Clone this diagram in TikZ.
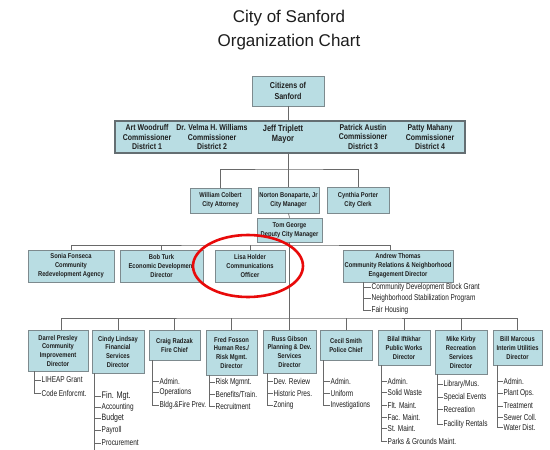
\documentclass[tikz,border=0pt]{standalone}
\usepackage{fontspec}
\setmainfont{Liberation Sans}
\newfontfamily\nfont[FakeStretch=0.83]{Liberation Sans}
\newfontfamily\ifont[FakeStretch=0.76]{Liberation Sans}
\definecolor{boxfill}{RGB}{185,221,227}
\definecolor{boxline}{RGB}{125,138,142}
\definecolor{linec}{RGB}{105,105,105}
\definecolor{txt}{RGB}{30,30,30}
\definecolor{ringred}{RGB}{232,10,10}
\newcommand\sublist[5]{%
  \foreach \yy/\txt [count=\i] in {#5} {%
    \node[item] (#1-\i) at (#4,\yy) {\txt};
    \draw[conn] (#2,#3) |- (#1-\i.west);
  }}
\begin{document}
\begin{tikzpicture}[x=1pt,y=-1pt,
  box/.style={draw=boxline, fill=boxfill, line width=0.8pt, inner sep=1pt,
    align=center, text=txt, font=\nfont\bfseries\fontsize{7}{8.9}\selectfont},
  bigbox/.style={box, font=\nfont\bfseries\fontsize{8.6}{10.5}\selectfont},
  ctext/.style={align=center, text=txt, inner sep=0pt, font=\nfont\bfseries\fontsize{8.4}{9.8}\selectfont},
  item/.style={anchor=west, inner sep=0.5pt, text=txt, font=\ifont\fontsize{8.5}{9}\selectfont},
  conn/.style={draw=linec, line width=0.7pt},
  title/.style={align=center, text=txt, font=\fontsize{17}{24.5}\selectfont}]
\useasboundingbox (0,0) rectangle (550,450);
\fill[white] (0,0) rectangle (550,450);

\node[title] (title) at (289,30) {City of Sanford\\Organization Chart};

% top
\node[bigbox, minimum width=72pt, minimum height=30pt] (citizens) at (288,91) {Citizens of\\Sanford};
\node[box, line width=1.2pt, draw=boxline!80!black, minimum width=350pt, minimum height=32pt] (council) at (290,137) {};
\node[ctext] (art) at (147,137) {Art Woodruff\\Commissioner\\District 1};
\node[ctext] (velma) at (212,137) {Dr. Velma H. Williams\\Commissioner\\District 2};
\node[ctext, font=\nfont\bfseries\fontsize{9}{10.5}\selectfont] (jeff) at (283,134) {Jeff Triplett\\Mayor};
\node[ctext] (patrick) at (363,137) {Patrick Austin\\Commissioner\\District 3};
\node[ctext] (patty) at (430,137) {Patty Mahany\\Commissioner\\District 4};

% management
\node[box, minimum width=61pt, minimum height=25pt] (william) at (220.5,200.5) {William Colbert\\City Attorney};
\node[box, minimum width=61pt, minimum height=26pt] (norton) at (288.5,200) {Norton Bonaparte, Jr\\City Manager};
\node[box, minimum width=62pt, minimum height=26pt] (cynthia) at (358,200) {Cynthia Porter\\City Clerk};
\node[box, minimum width=65pt, minimum height=24pt] (tom) at (289.5,230) {Tom George\\Deputy City Manager};

% directors
\node[box, minimum width=86pt, minimum height=32pt] (sonia) at (71,266) {Sonia Fonseca\\Community\\Redevelopment Agency};
\node[box, minimum width=83pt, minimum height=32pt] (bob) at (161.5,266) {Bob Turk\\Economic Development\\Director};
\node[box, minimum width=70pt, minimum height=32pt] (lisa) at (250,266) {Lisa Holder\\Communications\\Officer};
\node[box, minimum width=110pt, minimum height=32pt] (andrew) at (398,266) {Andrew Thomas\\Community Relations \& Neighborhood\\Engagement Director};

% bottom row
\node[box, anchor=north, minimum width=60pt, minimum height=41pt] (darrel) at (58,330) {Darrel Presley\\Community\\Improvement\\Director};
\node[box, anchor=north, minimum width=52pt, minimum height=43pt] (cindy) at (118,330) {Cindy Lindsay\\Financial\\Services\\Director};
\node[box, anchor=north, minimum width=51pt, minimum height=30pt] (craig) at (174.5,330) {Craig Radzak\\Fire Chief};
\node[box, anchor=north, minimum width=51pt, minimum height=45pt] (fred) at (231.5,330) {Fred Fosson\\Human Res./\\Risk Mgmt.\\Director};
\node[box, anchor=north, minimum width=53pt, minimum height=43pt] (russ) at (289.5,330) {Russ Gibson\\Planning \& Dev.\\Services\\Director};
\node[box, anchor=north, minimum width=52pt, minimum height=30pt] (cecil) at (346,330) {Cecil Smith\\Police Chief};
\node[box, anchor=north, minimum width=52pt, minimum height=35pt] (bilal) at (404,330) {Bilal Iftikhar\\Public Works\\Director};
\node[box, anchor=north, minimum width=52pt, minimum height=44pt] (mike) at (461,330) {Mike Kirby\\Recreation\\Services\\Director};
\node[box, anchor=north, minimum width=49pt, minimum height=35pt] (bill) at (517.5,330) {Bill Marcous\\Interim Utilities\\Director};

% connectors
\coordinate (hA) at (289,169);
\coordinate (hB) at (289,245);
\coordinate (hC) at (289,318);
\draw[conn] (citizens.south) -- (citizens.south |- council.north);
\draw[conn] (council.south -| norton.north) -- (norton.north);
\draw[conn] (norton.south) -- (tom.north);
\draw[conn] (william.north) |- (hA) -| (cynthia.north);
\draw[conn] (tom.south) -- (russ.north);
\draw[conn] (sonia.north) |- (hB) -| ([xshift=-8pt]andrew.north);
\draw[conn] (bob.north) -- (bob.north |- hB);
\draw[conn] (lisa.north) -- (lisa.north |- hB);
\draw[conn] ([xshift=3pt]darrel.north) |- (hC) -| (bill.north);
\foreach \n in {cindy,craig,fred,cecil,bilal,mike}{
  \draw[conn] (\n.north) -- (\n.north |- hC);
}

% sub lists
\sublist{andrewL}{363}{282}{371}{287/Community Development Block Grant, 298/Neighborhood Stabilization Program, 310/Fair Housing}
\sublist{darrelL}{34}{371}{41}{380/LIHEAP Grant, 393/Code Enforcmt.}
\sublist{cindyL}{94}{373}{101}{396/{\fontsize{9.6}{9}\selectfont Fin. Mgt.}, 407/Accounting, 418/{\fontsize{9.2}{9}\selectfont Budget}, 430/Payroll, 443/Procurement}
\draw[conn] (94,443) -- (94,450);
\sublist{craigL}{152}{360}{159}{381/Admin., 392/Operations, 405/Bldg.\&Fire Prev.}
\sublist{fredL}{209}{375}{215}{382/Risk Mgmnt., 394/{Benefits/Train.}, 406/Recruitment}
\sublist{russL}{267}{373}{273}{381/Dev. Review, 393/Historic Pres., 405/Zoning}
\sublist{cecilL}{323}{360}{330}{381/Admin., 393/Uniform, 405/Investigations}
\sublist{bilalL}{381}{365}{387}{381/Admin., 392/Solid Waste, 405/Flt. Maint., 417/Fac. Maint., 428/St. Maint., 441/Parks \& Grounds Maint.}
\sublist{mikeL}{437}{374}{443}{384/{Library/Mus.}, 397/Special Events, 409/Recreation, 424/Facility Rentals}
\sublist{billL}{497}{365}{503}{381/Admin., 393/Plant Ops., 406/Treatment, 417/Sewer Coll., 427/Water Dist.}

% highlight ring
\draw[ringred, line width=2.6pt] (248,266) ellipse [x radius=55, y radius=31];
\end{tikzpicture}
\end{document}
